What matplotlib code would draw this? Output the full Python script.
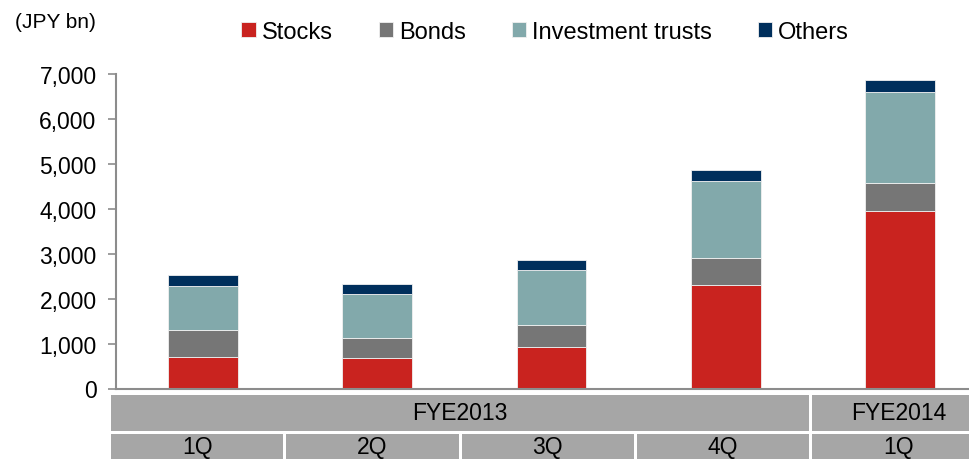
import matplotlib.pyplot as plt
from matplotlib.patches import Rectangle
import numpy as np

plt.rcParams['font.family'] = ['Liberation Sans', 'DejaVu Sans']

# Data (JPY bn)
quarters = ["1Q", "2Q", "3Q", "4Q", "1Q"]
fiscal_years = ["FYE2013", "FYE2014"]
fy_spans = [4, 1]
stocks = [690, 668, 913, 2307, 3949]
bonds = [608, 459, 497, 588, 617]
inv_trusts = [973, 973, 1231, 1715, 2040]
others = [245, 216, 216, 245, 254]

series = [("Stocks", stocks, "#c9231f"),
          ("Bonds", bonds, "#767676"),
          ("Investment trusts", inv_trusts, "#82a9ab"),
          ("Others", others, "#002f5c")]

W, H = 970, 460
fig = plt.figure(figsize=(W / 100, H / 100), dpi=100)

# main axes in pixel terms
ax = fig.add_axes([116 / W, (H - 389.5) / H, (W - 116) / W, (389.5 - 75) / H])
x = np.arange(len(quarters))
bottom = np.zeros(len(quarters))
for name, vals, col in series:
    ax.bar(x, vals, width=0.4, bottom=bottom, color=col, edgecolor="#f0f0f0",
           linewidth=0.6, label=name)
    bottom += np.array(vals)

ax.set_xlim(-0.5, -0.5 + (W - 116) / 174.2)
ax.set_ylim(0, 7000)
ax.set_yticks(range(0, 7001, 1000))
ax.set_yticklabels([f"{v:,}" for v in range(0, 7001, 1000)], fontsize=16.5)
ax.set_xticks([])
for s in ["top", "right"]:
    ax.spines[s].set_visible(False)
for s in ["left", "bottom"]:
    ax.spines[s].set_color("#8c8c8c")
    ax.spines[s].set_linewidth(1.5)
ax.tick_params(axis="y", direction="out", length=6, width=1.2, color="#8c8c8c", pad=8)

fig.text(15 / W, 1 - 23 / H, "(JPY bn)", fontsize=15, va="center", ha="left")

leg = fig.legend(loc="center", bbox_to_anchor=(545 / W, 1 - 33 / H), ncol=4,
                 frameon=False, fontsize=17, handlelength=0.6, handleheight=0.6,
                 handletextpad=0.25, columnspacing=1.95, borderaxespad=0)

# category boxes under the axis
bx = fig.add_axes([111 / W, 0, (W - 111) / W, (H - 396) / H])
bx.set_xlim(0, (W - 111) / 175.3)
bx.set_ylim(0, H - 396)
bx.axis("off")
gap = 3 / 175.3
box_col = "#a6a6a6"
row2_top = H - 435
row1_bot, row1_top = H - 432, H - 396
for i, q in enumerate(quarters):
    bx.add_patch(Rectangle((i, -5), 1 - gap, row2_top + 5, color=box_col, lw=0))
    bx.text(i + 0.5 - gap / 2, H - 448, q, ha="center", va="center", fontsize=16.5)
start = 0
for fy, span in zip(fiscal_years, fy_spans):
    bx.add_patch(Rectangle((start, row1_bot), span - gap, row1_top - row1_bot,
                           color=box_col, lw=0))
    bx.text(start + span / 2 - gap / 2, (row1_bot + row1_top) / 2, fy,
            ha="center", va="center", fontsize=16.5)
    start += span

fig.savefig("out.png", dpi=100)
